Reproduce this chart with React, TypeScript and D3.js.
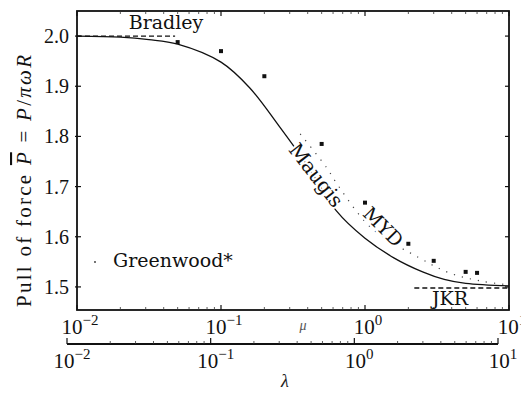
import React from 'react';
import * as d3 from 'd3';

// Maugis solid curve (mu, P)
const curveMu = [0.01, 0.02, 0.0316, 0.05, 0.1, 0.158, 0.251, 0.398, 0.631, 1, 1.585, 2.512, 3.55, 5.01, 10];
const curveP = [2.0, 1.998, 1.993, 1.984, 1.948, 1.897, 1.822, 1.742, 1.652, 1.597, 1.558, 1.53, 1.515, 1.507, 1.502];

// MYD dotted curve
const mydMu = [0.355, 0.54, 0.665, 1.12, 2.38, 3.85, 6.31, 10];
const mydP = [1.805, 1.738, 1.698, 1.616, 1.558, 1.528, 1.512, 1.504];

// measured points
const dotMu = [0.05, 0.1, 0.2, 0.5, 1, 2, 3, 5, 6];
const dotP = [1.988, 1.97, 1.92, 1.785, 1.668, 1.586, 1.552, 1.53, 1.528];

const yTicks = [1.5, 1.6, 1.7, 1.8, 1.9, 2.0];
const decades = [0.01, 0.1, 1, 10];
const decadeExp = ['−2', '−1', '0', '1'];

const W = 529;
const H = 395;
const M = 8; // body margin
const left = 77, right = 509, top = 11, bottom = 310;

const css = `
.tk { font-family: "Liberation Serif"; }
.lb { font-family: "DejaVu Serif"; }
`;

export default function App() {
  const x = d3.scaleLog().domain([0.01, 10]).range([left, right]);
  const y = d3.scaleLinear().domain([1.454, 2.05]).range([bottom, top]);
  // lambda axis, shifted left
  const x2 = d3.scaleLog().domain([0.01, 10]).range([67, 498]);

  const line = d3.line<number>()
    .x((d, i) => x(curveMu[i]))
    .y((d) => y(d))
    .curve(d3.curveCatmullRom.alpha(0.5));
  const mydLine = d3.line<number>()
    .x((d, i) => x(mydMu[i]))
    .y((d) => y(d))
    .curve(d3.curveCatmullRom.alpha(0.5));

  const minor: number[] = [];
  [0.01, 0.1, 1].forEach(d => { for (let k = 2; k < 10; k++) minor.push(d * k); });

  return (
    <svg width={W - M} height={H - M}>
      <style>{css}</style>
      <g transform={`translate(${-M},${-M})`}>
        <rect width={W} height={H} fill="#fff" />
        {/* curves */}
        <path d={line(curveP) || ''} fill="none" stroke="#111" strokeWidth={1.3} />
        <path d={mydLine(mydP) || ''} fill="none" stroke="#444" strokeWidth={1.2} strokeDasharray="1.2 7" />
        {/* dashed limits */}
        <line x1={x(0.01)} x2={x(0.048)} y1={y(2.0)} y2={y(2.0)} stroke="#111" strokeWidth={1.4} strokeDasharray="5 3" />
        <line x1={x(2.2)} x2={x(10)} y1={y(1.498)} y2={y(1.498)} stroke="#111" strokeWidth={1.4} strokeDasharray="5 3" />
        {/* points */}
        {dotMu.map((m, i) => (
          <rect key={i} x={x(m) - 2} y={y(dotP[i]) - 2} width={4} height={4} fill="#111" />
        ))}
        <circle cx={95} cy={262} r={0.9} fill="#333" />
        {/* frame */}
        <rect x={left} y={top} width={right - left} height={bottom - top} fill="none" stroke="#111" strokeWidth={1.8} />
        {yTicks.map(t => (
          <g key={t}>
            <line x1={left - 2} x2={left + 4} y1={y(t)} y2={y(t)} stroke="#111" strokeWidth={1.2} />
            <line x1={right - 4} x2={right} y1={y(t)} y2={y(t)} stroke="#111" strokeWidth={1.2} />
            <text className="tk" x={69} y={y(t) + 7} textAnchor="end" fontFamily="Liberation Serif" fontSize={20} fill="#111">{t.toFixed(1)}</text>
          </g>
        ))}
        {decades.map(d => (
          <g key={d}>
            <line x1={x(d)} x2={x(d)} y1={bottom} y2={bottom - 5} stroke="#111" strokeWidth={1.2} />
            <line x1={x(d)} x2={x(d)} y1={top} y2={top + 5} stroke="#111" strokeWidth={1.2} />
          </g>
        ))}
        {minor.map(d => (
          <g key={d}>
            <line x1={x(d)} x2={x(d)} y1={bottom} y2={bottom - 3} stroke="#333" strokeWidth={0.8} />
            <line x1={x(d)} x2={x(d)} y1={top} y2={top + 3} stroke="#333" strokeWidth={0.8} />
          </g>
        ))}
        {decades.map((d, i) => (
          <text key={d} className="tk" x={x(d) + 3} y={334} textAnchor="middle" fontFamily="Liberation Serif" fontSize={21} fill="#111">
            10<tspan dy={-9} fontSize={15}>{decadeExp[i]}</tspan>
          </text>
        ))}
        <text className="tk" x={303} y={330} textAnchor="middle" fontFamily="Liberation Serif" fontStyle="italic" fontSize={14} fill="#555">μ</text>
        {/* lambda axis */}
        <line x1={x2(0.01)} x2={x2(10)} y1={344} y2={344} stroke="#111" strokeWidth={2} />
        {decades.map(d => (
          <line key={d} x1={x2(d)} x2={x2(d)} y1={344} y2={338} stroke="#111" strokeWidth={1.2} />
        ))}
        {minor.map(d => (
          <line key={d} x1={x2(d)} x2={x2(d)} y1={344} y2={341} stroke="#333" strokeWidth={0.8} />
        ))}
        {decades.map((d, i) => (
          <text key={d} className="tk" x={x2(d) + 5} y={368} textAnchor="middle" fontFamily="Liberation Serif" fontSize={21} fill="#111">
            10<tspan dy={-9} fontSize={15}>{decadeExp[i]}</tspan>
          </text>
        ))}
        <text className="tk" x={285} y={387} textAnchor="middle" fontFamily="Liberation Serif" fontStyle="italic" fontSize={18} fill="#222">λ</text>
        {/* labels */}
        <text className="lb" x={166} y={29} textAnchor="middle" fontFamily="DejaVu Serif" fontSize={19} fill="#111">Bradley</text>
        <text className="lb" x={113} y={267} fontFamily="DejaVu Serif" fontSize={19} fill="#111">Greenwood*</text>
        <text className="lb" x={450} y={305} textAnchor="middle" fontFamily="DejaVu Serif" fontSize={19} fill="#111">JKR</text>
        <text className="lb" transform="translate(315,176) rotate(52)" textAnchor="middle" dominantBaseline="middle"
          fontFamily="DejaVu Serif" fontSize={20} fill="#111" stroke="#fff" strokeWidth={4} paintOrder="stroke">Maugis</text>
        <text className="lb" transform="translate(382,228) rotate(45)" textAnchor="middle" dominantBaseline="middle"
          fontFamily="DejaVu Serif" fontSize={19} fill="#111" stroke="#fff" strokeWidth={4} paintOrder="stroke">MYD</text>
        {/* y label */}
        <text className="tk" transform="translate(31,307) rotate(-90)" fontFamily="Liberation Serif" fontSize={21} fill="#111"
          textLength={252} lengthAdjust="spacing">
          Pull of force <tspan fontStyle="italic" textDecoration="overline">P</tspan> = <tspan fontStyle="italic">P</tspan>/<tspan fontStyle="italic">πωR</tspan>
        </text>
      </g>
    </svg>
  );
}
